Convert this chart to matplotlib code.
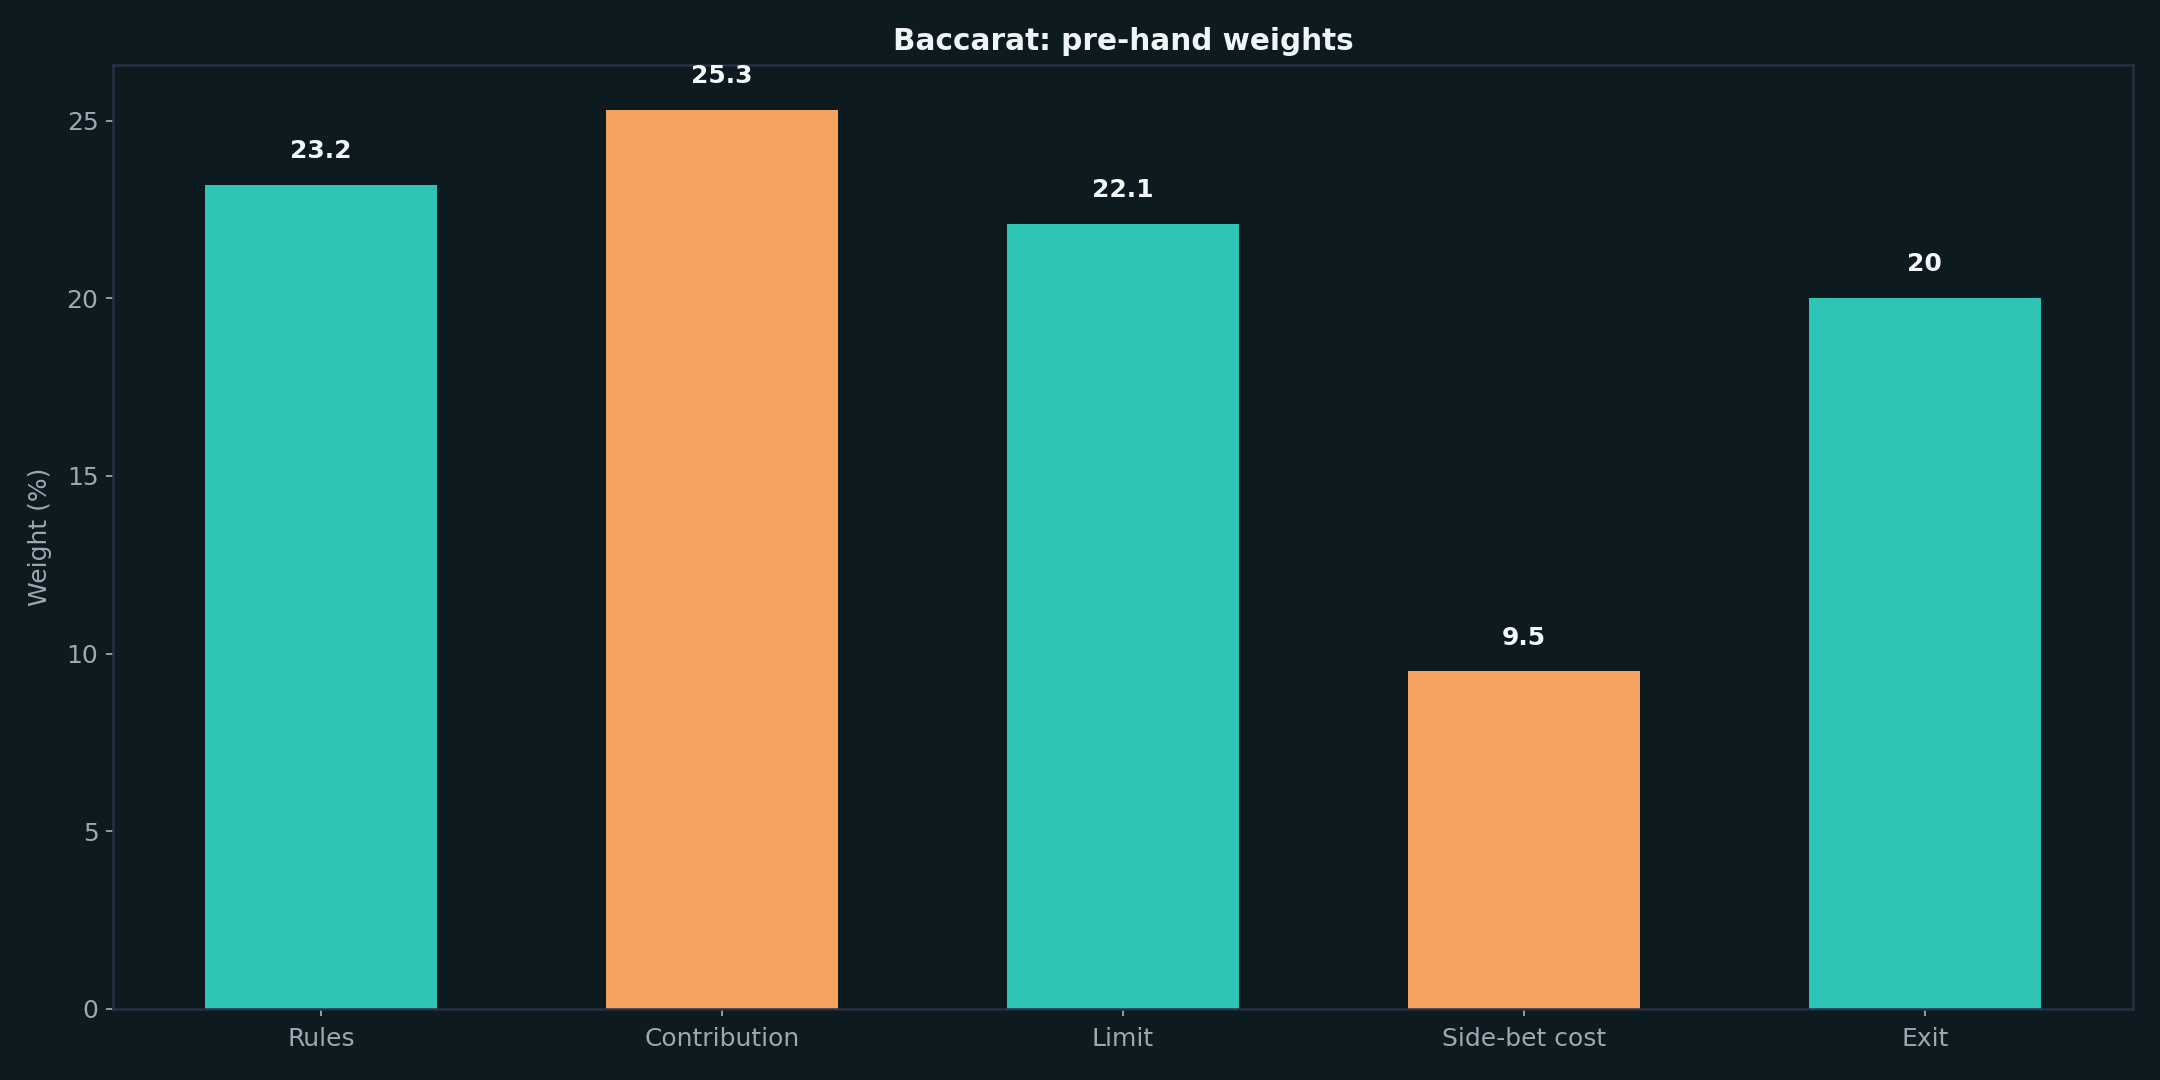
import matplotlib
matplotlib.use("Agg")
import matplotlib.pyplot as plt

categories = ["Rules", "Contribution", "Limit", "Side-bet cost", "Exit"]
values = [23.2, 25.3, 22.1, 9.5, 20]
colors = ["#2ec4b6", "#f4a261", "#2ec4b6", "#f4a261", "#2ec4b6"]

BG = "#0d1a20"
SPINE = "#2a2f45"
TXT = "#9aaab0"

fig = plt.figure(figsize=(14.4, 7.2), dpi=150, facecolor=BG)
ax = fig.add_axes([113/2160, 1 - 1009/1080, (2133-113)/2160, (1009-65)/1080])
ax.set_facecolor(BG)

x = list(range(len(categories)))
bars = ax.bar(x, values, width=0.58, color=colors)
ax.set_xticks(x)
ax.set_xticklabels(categories)

for xi, v in zip(x, values):
    ax.annotate(f"{v:g}", (xi, v), xytext=(0, 10.5), textcoords="offset points",
                ha="center", va="bottom", color="#f5f8fa", fontsize=12, fontweight="bold")

ax.set_title("Baccarat: pre-hand weights", color="#f0f6f8", fontsize=14.2,
             fontweight="bold", pad=7)
ax.set_ylabel("Weight (%)", color=TXT, fontsize=12, labelpad=7)
ax.tick_params(colors=TXT, labelsize=12, labelcolor=TXT)
ax.tick_params(axis="x", pad=5)
ax.tick_params(axis="both", color="#aab4b8")
for s in ax.spines.values():
    s.set_color(SPINE)
    s.set_linewidth(1.2)

fig.savefig("out.png", dpi=150, facecolor=BG)
